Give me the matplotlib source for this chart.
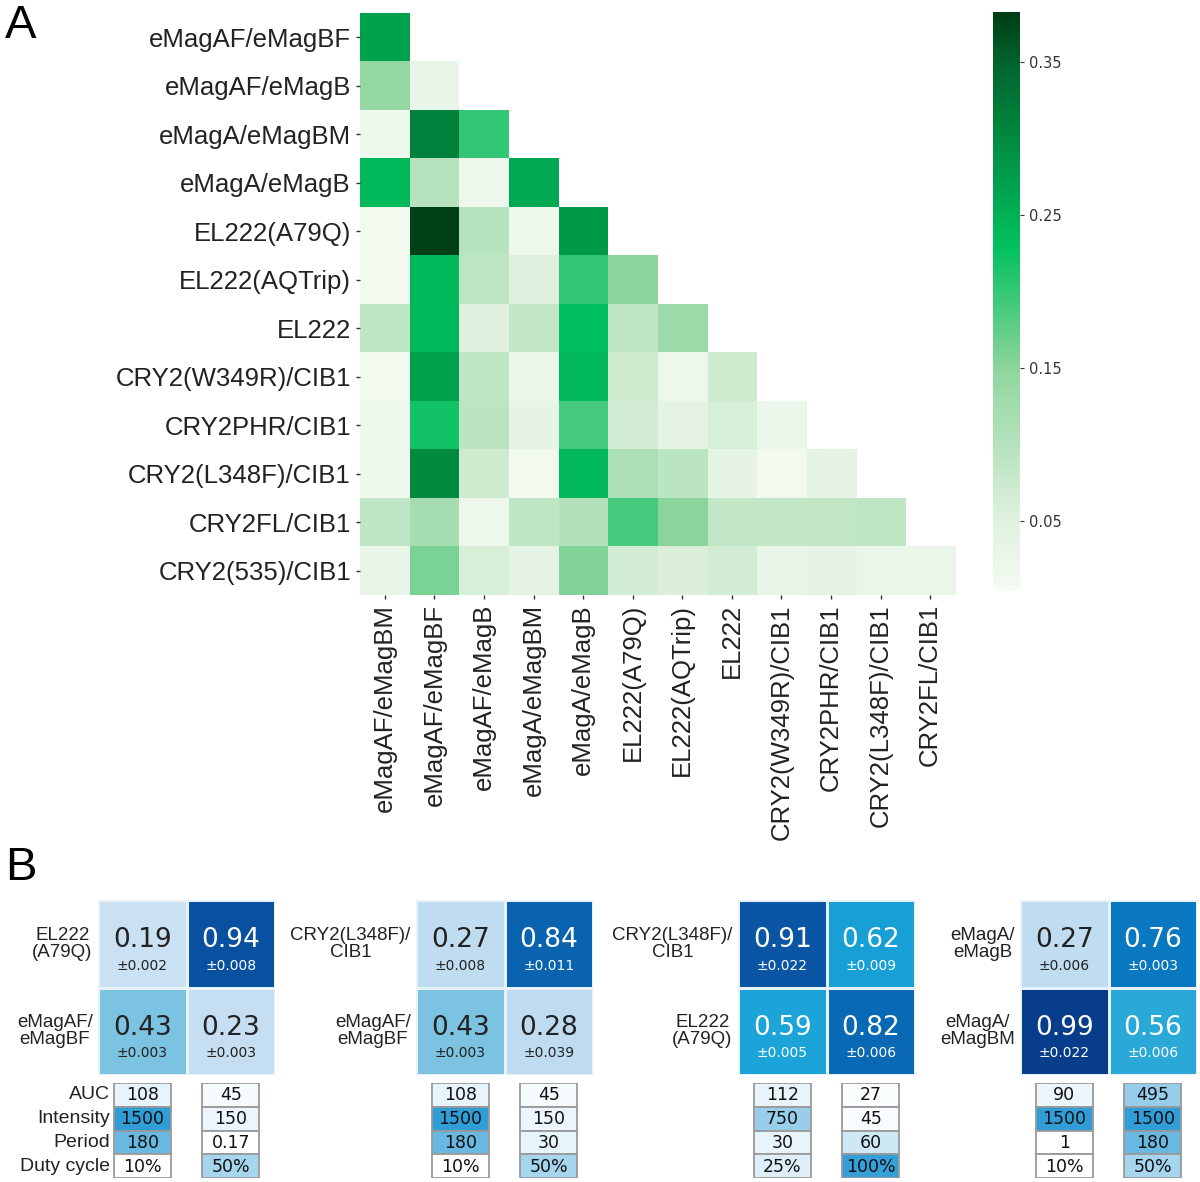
import numpy as np
import matplotlib
matplotlib.use('Agg')
import matplotlib.pyplot as plt
from matplotlib.colors import LinearSegmentedColormap, Normalize
from matplotlib.patches import Rectangle

# ---- panel A data: pairwise distances (lower triangle incl. diagonal) ----
constructs = ['eMagAF/eMagBM', 'eMagAF/eMagBF', 'eMagAF/eMagB', 'eMagA/eMagBM',
              'eMagA/eMagB', 'EL222(A79Q)', 'EL222(AQTrip)', 'EL222',
              'CRY2(W349R)/CIB1', 'CRY2PHR/CIB1', 'CRY2(L348F)/CIB1',
              'CRY2FL/CIB1', 'CRY2(535)/CIB1']
row_labels = constructs[1:]
col_labels = constructs[:-1]

dist_rows = [
    [0.27],
    [0.14, 0.03],
    [0.015, 0.31, 0.20],
    [0.24, 0.10, 0.02, 0.26],
    [0.01, 0.38, 0.10, 0.02, 0.28],
    [0.01, 0.24, 0.09, 0.05, 0.20, 0.15],
    [0.09, 0.24, 0.05, 0.085, 0.23, 0.09, 0.13],
    [0.01, 0.27, 0.09, 0.025, 0.24, 0.07, 0.02, 0.07],
    [0.015, 0.22, 0.095, 0.035, 0.19, 0.065, 0.04, 0.06, 0.025],
    [0.015, 0.30, 0.07, 0.01, 0.24, 0.11, 0.095, 0.035, 0.01, 0.04],
    [0.09, 0.12, 0.02, 0.09, 0.105, 0.19, 0.15, 0.085, 0.085, 0.085, 0.09],
    [0.03, 0.16, 0.06, 0.04, 0.155, 0.065, 0.055, 0.065, 0.03, 0.04, 0.025, 0.025],
]

# ---- panel B data ----
pair_top = ['EL222\n(A79Q)', 'CRY2(L348F)/\nCIB1', 'CRY2(L348F)/\nCIB1', 'eMagA/\neMagB']
pair_bottom = ['eMagAF/\neMagBF', 'eMagAF/\neMagBF', 'EL222\n(A79Q)', 'eMagA/\neMagBM']
score_mean = [[[0.19, 0.94], [0.43, 0.23]],
              [[0.27, 0.84], [0.43, 0.28]],
              [[0.91, 0.62], [0.59, 0.82]],
              [[0.27, 0.76], [0.99, 0.56]]]
score_err = [[[0.002, 0.008], [0.003, 0.003]],
             [[0.008, 0.011], [0.003, 0.039]],
             [[0.022, 0.009], [0.005, 0.006]],
             [[0.006, 0.003], [0.022, 0.006]]]

cond_names = ['AUC', 'Intensity', 'Period', 'Duty cycle']
auc = [[108, 45], [108, 45], [112, 27], [90, 495]]
intensity = [[1500, 150], [1500, 150], [750, 45], [1500, 1500]]
period = [[180, 0.17], [180, 30], [30, 60], [1, 180]]
duty = [[10, 50], [10, 50], [25, 100], [10, 50]]

# ---- colormaps ----
green = LinearSegmentedColormap.from_list('grn', [
    (0.0, '#f5fbf3'), (0.12, '#dff1de'), (0.38, '#8ed59d'),
    (0.595, '#00c060'), (0.65, '#00b055'), (0.91, '#00652c'), (1.0, '#003d15')])
blue = LinearSegmentedColormap.from_list('blu', [
    (0.0, '#d6e9f6'), (0.2, '#c8e0f2'), (0.3, '#bcdaef'), (0.43, '#7cc3e1'),
    (0.58, '#1ea5d8'), (0.62, '#189fd6'), (0.76, '#0a78c0'), (0.84, '#0a64b0'),
    (0.94, '#0a50a0'), (1.0, '#083a88')])
box_cmap = LinearSegmentedColormap.from_list('box', ['#ffffff', '#2a9ad6'])
box_norms = [Normalize(0, 1000), Normalize(0, 1550), Normalize(0, 257), Normalize(10, 105)]

W, H = 1200, 1182
fig = plt.figure(figsize=(12, 11.82), dpi=100)


def rect(x0, y0, x1, y1):
    return [x0 / W, 1 - y1 / H, (x1 - x0) / W, (y1 - y0) / H]


label_font = 'Liberation Sans'

# ---- panel A ----
n = len(row_labels)
mat = np.full((n, n), np.nan)
for i, vals in enumerate(dist_rows):
    mat[i, :len(vals)] = vals

ax = fig.add_axes(rect(360, 13, 955, 595))
norm = Normalize(0.005, 0.383)
im = ax.imshow(mat, cmap=green, norm=norm, aspect='auto', interpolation='nearest')
ax.set_xticks(range(n))
ax.set_yticks(range(n))
ax.set_xticklabels(col_labels, rotation=90, fontsize=18.5, family=label_font, color='#222')
ax.set_yticklabels(row_labels, fontsize=18.5, family=label_font, color='#222')
ax.tick_params(length=3, width=1, color='#333')
for s in ax.spines.values():
    s.set_visible(False)

cax = fig.add_axes(rect(993, 12, 1020, 590))
cb = fig.colorbar(im, cax=cax)
cb.outline.set_visible(False)
cb.set_ticks([0.05, 0.15, 0.25, 0.35])
cax.tick_params(labelsize=10.5, colors='#333', length=3)

fig.text(5 / W, 1 - 4 / H, 'A', fontsize=34, family=label_font, va='top', ha='left')
fig.text(5 / W, 1 - 846 / H, 'B', fontsize=34, family=label_font, va='top', ha='left')

# ---- panel B ----
heat_x = [98, 416, 738, 1020]
cell_w = 177
score_norm = Normalize(0, 1)
for k, x0 in enumerate(heat_x):
    hax = fig.add_axes(rect(x0, 900, x0 + cell_w, 1075))
    m = np.array(score_mean[k])
    hax.pcolormesh(np.arange(3) - 0.5, np.arange(3) - 0.5, m, cmap=blue, norm=score_norm,
                   edgecolors='#e8f2fa', linewidth=1.0)
    hax.set_xlim(-0.5, 1.5)
    hax.set_ylim(1.5, -0.5)
    hax.axis('off')
    for r in range(2):
        for c in range(2):
            v = m[r, c]
            tc = 'white' if v > 0.5 else '#222222'
            hax.text(c, r - 0.04, f'{v:.2f}', ha='center', va='center', fontsize=19, color=tc)
            hax.text(c, r + 0.25, f'\u00b1{score_err[k][r][c]:.3f}', ha='center', va='center',
                     fontsize=10, color=tc)
    for r, lab in enumerate([pair_top[k], pair_bottom[k]]):
        hax.text(-0.56, r, lab, ha='right', va='center', multialignment='center',
                 fontsize=13.5, family=label_font, color='#222', linespacing=1.0)

    bax = fig.add_axes(rect(x0, 1083, x0 + cell_w, 1178))
    bax.set_xlim(-0.5, 1.5)
    bax.set_ylim(3.5, -0.5)
    bax.axis('off')
    rows = [auc[k], intensity[k], period[k], duty[k]]
    for r, vals in enumerate(rows):
        for c, v in enumerate(vals):
            fc = box_cmap(box_norms[r](v))
            bax.add_patch(Rectangle((c - 0.32, r - 0.5), 0.64, 1.0, facecolor=fc,
                                    edgecolor='#9a9a9a', linewidth=1.3))
            txt = f'{v}%' if r == 3 else f'{v:g}'
            bax.text(c, r + 0.02, txt, ha='center', va='center', fontsize=12.5, color='#111')
        if k == 0:
            bax.text(-0.36, r, cond_names[r], ha='right', va='center', fontsize=14,
                     family=label_font, color='#222')

fig.savefig('out.png', dpi=100)
